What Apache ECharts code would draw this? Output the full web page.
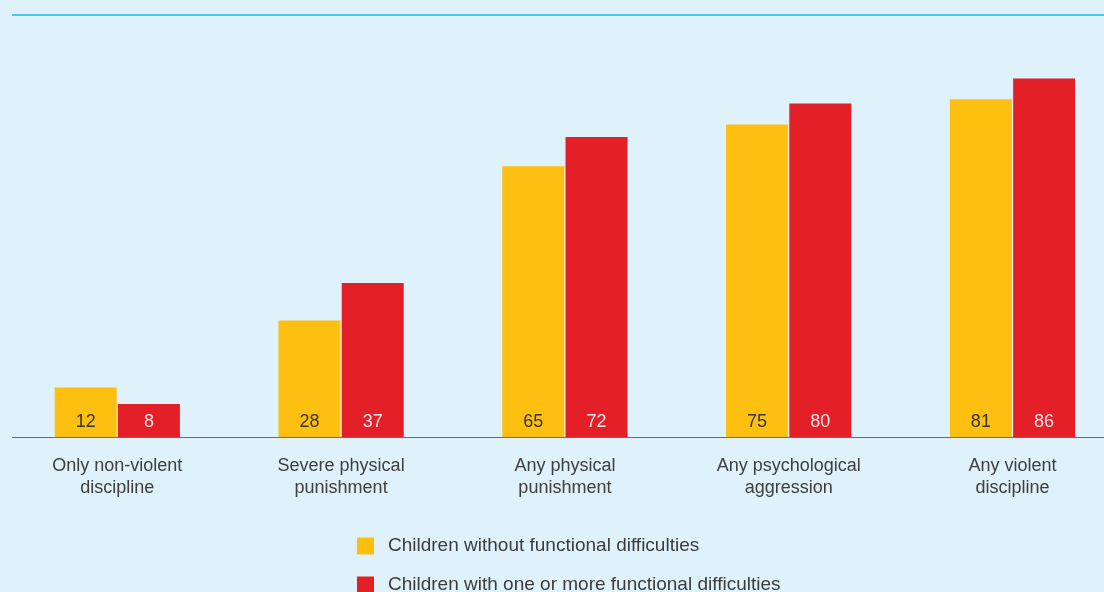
<!DOCTYPE html>
<html>
<head>
<meta charset="utf-8">
<script src="https://cdn.jsdelivr.net/npm/echarts@6/dist/echarts.min.js"></script>
<style>
  html, body { margin: 0; padding: 0; background: #dff1fb; }
  #chart { width: 1104px; height: 592px; }
</style>
</head>
<body>
<div id="chart"></div>
<script>
// Discipline methods experienced by children, by functional difficulty status (%)
const categories = [
  'Only non-violent\ndiscipline',
  'Severe physical\npunishment',
  'Any physical\npunishment',
  'Any psychological\naggression',
  'Any violent\ndiscipline'
];
const withoutDifficulties = [12, 28, 65, 75, 81];
const withDifficulties = [8, 37, 72, 80, 86];
const seriesNames = [
  'Children without functional difficulties',
  'Children with one or more functional difficulties'
];

const FONT = '"Liberation Sans", Arial, sans-serif';

const chart = echarts.init(document.getElementById('chart'), null, { renderer: 'canvas' });

function barLabel(color) {
  return {
    show: true,
    position: 'insideBottom',
    distance: 6,
    color: color,
    fontFamily: FONT,
    fontSize: 18
  };
}

chart.setOption({
  backgroundColor: '#dff1fb',
  animation: false,
  // the plot runs slightly past the right edge of the canvas
  grid: {
    left: 5.4,
    width: 1119,
    top: 20,
    bottom: 154.5,
    containLabel: false,
    outerBoundsMode: 'none'
  },
  legend: {
    orient: 'vertical',
    left: 357,
    top: 536.5,
    height: 80,
    padding: 0,
    itemWidth: 17,
    itemHeight: 17,
    itemGap: 20,
    icon: 'rect',
    textStyle: {
      fontFamily: FONT,
      fontSize: 19,
      lineHeight: 17,
      color: '#3c3c3c',
      padding: [0, 0, 0, 9]
    },
    data: seriesNames
  },
  xAxis: {
    type: 'category',
    data: categories,
    axisLine: { show: false },
    axisTick: { show: false },
    axisLabel: {
      margin: 18,
      fontFamily: FONT,
      fontSize: 18,
      lineHeight: 22,
      color: '#3e3e3e',
      interval: 0
    }
  },
  yAxis: {
    type: 'value',
    min: 0,
    max: 100,
    show: false,
    splitLine: { show: false }
  },
  graphic: [
    {
      type: 'line',
      shape: { x1: 12, y1: 15, x2: 1104, y2: 15 },
      style: { stroke: '#4cc4f1', lineWidth: 2 },
      silent: true
    },
    {
      type: 'line',
      shape: { x1: 12, y1: 437.5, x2: 1104, y2: 437.5 },
      style: { stroke: '#5f6f80', lineWidth: 1 },
      silent: true,
      z: 10
    }
  ],
  series: [
    {
      name: seriesNames[0],
      type: 'bar',
      data: withoutDifficulties,
      barWidth: 62,
      barGap: '2%',
      itemStyle: { color: '#fdc010' },
      label: barLabel('#3a3326')
    },
    {
      name: seriesNames[1],
      type: 'bar',
      data: withDifficulties,
      barWidth: 62,
      barGap: '2%',
      itemStyle: { color: '#e31f28' },
      label: barLabel('#fde3e3')
    }
  ]
});
</script>
</body>
</html>
